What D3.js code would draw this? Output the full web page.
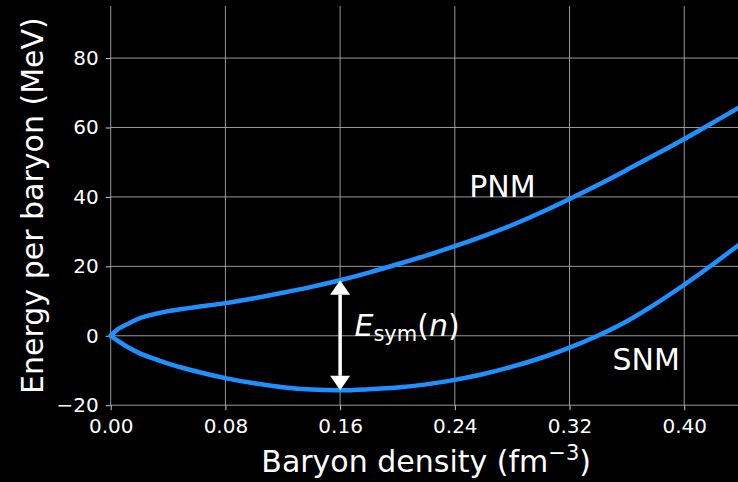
<!DOCTYPE html>
<html>
<head>
<meta charset="utf-8">
<script src="https://cdn.jsdelivr.net/npm/d3@7"></script>
<style>
  body { margin: 0; background: #000; }
  svg { display: block; background: #000; }
  text { font-family: "DejaVu Sans", sans-serif; fill: #fff; }
</style>
</head>
<body>
<svg id="chart" width="738" height="482"></svg>
<script>
// baryon density (fm^-3) and energy per baryon (MeV)
const density = [0, 0.005, 0.01, 0.02, 0.03, 0.04, 0.05, 0.06, 0.08, 0.10, 0.12, 0.14, 0.16, 0.18, 0.20,
  0.22, 0.24, 0.26, 0.28, 0.30, 0.32, 0.34, 0.36, 0.38, 0.40, 0.42, 0.44];
const pnm = [0, 1.9, 3.0, 5.0, 6.2, 7.1, 7.7, 8.3, 9.4, 10.8, 12.4, 14.1, 16.0, 18.2, 20.6,
  23.1, 25.8, 28.7, 31.9, 35.5, 39.4, 43.5, 47.8, 52.2, 56.7, 61.4, 66.2];
const snm = [0, -1.5, -2.8, -5.0, -6.6, -8.0, -9.2, -10.3, -12.2, -13.7, -14.8, -15.5, -15.7, -15.4, -14.9,
  -14.0, -12.7, -11.0, -8.9, -6.4, -3.4, 0.1, 4.2, 9.2, 14.7, 20.6, 26.8];
const xTicks = [0, 0.08, 0.16, 0.24, 0.32, 0.40];
const yTicks = [-20, 0, 20, 40, 60, 80];
const nSat = 0.16; // where the Esym arrow sits

const svg = d3.select("#chart");
const margin = { top: 6, left: 110.7, bottom: 405.2, right: 741.6 };

let x = d3.scaleLinear().domain([0, 0.44]).range([margin.left, margin.right]);
let y = d3.scaleLinear().domain([-20, 95]).range([margin.bottom, margin.top]);

// grid
let grid = svg.append("g").attr("stroke", "#a8a8a8").attr("stroke-width", 0.9);
grid.selectAll(".vg").data(xTicks).enter().append("line")
  .attr("x1", d => x(d)).attr("x2", d => x(d))
  .attr("y1", y(95)).attr("y2", y(-20));
grid.selectAll(".hg").data(yTicks).enter().append("line")
  .attr("y1", d => y(d)).attr("y2", d => y(d))
  .attr("x1", x(0)).attr("x2", x(0.44));

// axes
let xAxis = svg.append("g").attr("transform", `translate(0,${y(-20)})`)
  .call(d3.axisBottom(x).tickValues(xTicks).tickFormat(d3.format(".2f")).tickSize(5).tickPadding(9));
let yAxis = svg.append("g").attr("transform", `translate(${x(0)},0)`)
  .call(d3.axisLeft(y).tickValues(yTicks).tickFormat(d3.format("d")).tickSize(5).tickPadding(7));
[xAxis, yAxis].forEach(a => {
  a.select(".domain").remove();
  a.selectAll(".tick line").attr("stroke", "#c8c8c8").attr("stroke-width", 1);
  a.selectAll(".tick text").attr("fill", "#fff").style("font-size", "20px")
    .style("font-family", "'DejaVu Sans', sans-serif");
});

// curves
svg.append("clipPath").attr("id", "clip").append("rect")
  .attr("x", margin.left - 5).attr("y", margin.top)
  .attr("width", margin.right - margin.left + 5).attr("height", margin.bottom - margin.top);

let line = d3.line().x(d => x(d[0])).y(d => y(d[1])).curve(d3.curveCatmullRom.alpha(0.5));
let curves = [d3.zip(density, pnm), d3.zip(density, snm)];
svg.append("g").attr("clip-path", "url(#clip)").selectAll("path").data(curves).enter().append("path")
  .attr("d", line).attr("fill", "none").attr("stroke", "#1e90ff")
  .attr("stroke-width", 4.5).attr("stroke-linecap", "round").attr("stroke-linejoin", "round");

// double arrow for the symmetry energy
let iSat = density.indexOf(nSat);
let ax = x(nSat), yTop = y(pnm[iSat]), yBot = y(snm[iSat]);
let headL = 14.5, headW = 10;
svg.append("line").attr("x1", ax).attr("x2", ax).attr("y1", yTop + headL).attr("y2", yBot - headL)
  .attr("stroke", "#fff").attr("stroke-width", 3.5);
svg.append("path").attr("fill", "#fff")
  .attr("d", `M${ax},${yTop}L${ax - headW},${yTop + headL}L${ax + headW},${yTop + headL}Z`);
svg.append("path").attr("fill", "#fff")
  .attr("d", `M${ax},${yBot}L${ax - headW},${yBot - headL}L${ax + headW},${yBot - headL}Z`);

// in-plot labels
svg.append("text").attr("x", x(0.25)).attr("y", y(40)).style("font-size", "30px").text("PNM");
svg.append("text").attr("x", x(0.35)).attr("y", y(-10)).style("font-size", "30px").text("SNM");
let es = svg.append("text").attr("x", x(0.17)).attr("y", y(0)).style("font-size", "30px");
es.append("tspan").style("font-style", "italic").text("E");
es.append("tspan").attr("dy", 5).style("font-size", "21px").text("sym");
es.append("tspan").attr("dy", -5).text("(");
es.append("tspan").style("font-style", "italic").text("n");
es.append("tspan").text(")");

// axis titles
let xl = svg.append("text").attr("x", x(0.22)).attr("y", 471.7).attr("text-anchor", "middle")
  .style("font-size", "30px");
xl.append("tspan").text("Baryon density (fm");
xl.append("tspan").attr("dy", -12).style("font-size", "21px").text("\u22123");
xl.append("tspan").attr("dy", 12).text(")");

svg.append("text").attr("transform", `translate(43,${(y(95) + y(-20)) / 2}) rotate(-90)`)
  .attr("text-anchor", "middle").style("font-size", "30px").text("Energy per baryon (MeV)");
</script>
</body>
</html>
